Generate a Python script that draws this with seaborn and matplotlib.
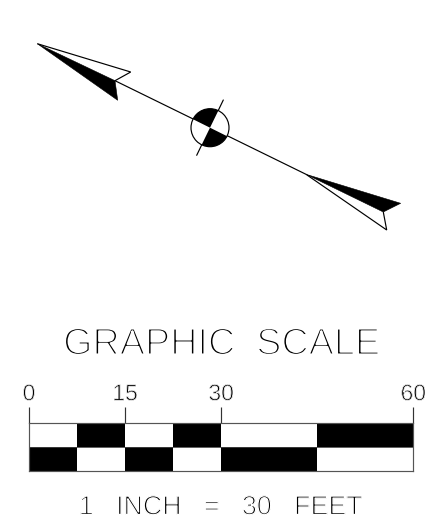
import numpy as np
import pandas as pd
import matplotlib
matplotlib.use("Agg")
import matplotlib.pyplot as plt
import matplotlib.patheffects as pe
from matplotlib.patches import Circle, Polygon, Wedge
import seaborn as sns

# scale bar segments, in feet
seg_start = [0, 7.5, 15, 22.5, 30, 45]
seg_width = [7.5, 7.5, 7.5, 7.5, 15, 15]
top_row = ["white", "black", "white", "black", "white", "black"]
bottom_row = ["black", "white", "black", "white", "black", "white"]
scale_ticks = [0, 15, 30, 60]

# north arrow outline in pixels
shaft_x = [115.0, 306.0]
shaft_y = [80.7, 174.3]
upper_white_x = [37.3, 130.7, 115.0]
upper_white_y = [43.7, 72.0, 80.7]
upper_black_x = [37.3, 115.0, 117.7]
upper_black_y = [43.7, 80.7, 100.3]
lower_black_x = [306.0, 400.7, 383.3]
lower_black_y = [174.3, 203.3, 212.0]
lower_white_x = [306.0, 386.7, 383.3]
lower_white_y = [174.3, 230.0, 212.0]
cross_x = [223.3, 196.7]
cross_y = [100.0, 155.3]

sns.set_theme(style="white")
plt.rcParams["font.family"] = ["Liberation Sans", "DejaVu Sans"]
W, H = 425, 529
fig = plt.figure(figsize=(W / 100, H / 100), dpi=100)
LW = 0.85


def thin(width):
    # white outline over the glyph, the lettering in the drawing is single stroke
    return [pe.Normal(), pe.Stroke(linewidth=width, foreground="white")]


# whole figure in pixels for the arrow
ax = fig.add_axes([0, 0, 1, 1])
ax.set_xlim(0, W)
ax.set_ylim(H, 0)
ax.axis("off")

sns.lineplot(x=shaft_x, y=shaft_y, color="black", lw=LW, sort=False, estimator=None, ax=ax)
sns.lineplot(x=cross_x, y=cross_y, color="black", lw=LW, sort=False, estimator=None, ax=ax)
ax.add_patch(Polygon(np.c_[upper_white_x, upper_white_y], closed=False, fill=False, ec="black", lw=LW))
ax.add_patch(Polygon(np.c_[upper_black_x, upper_black_y], fc="black", ec="black", lw=0.4))
ax.add_patch(Polygon(np.c_[lower_white_x, lower_white_y], closed=False, fill=False, ec="black", lw=LW))
ax.add_patch(Polygon(np.c_[lower_black_x, lower_black_y], fc="black", ec="black", lw=0.4))

# benchmark symbol
ax.add_patch(Circle((210, 127.7), 19, fc="white", ec="black", lw=LW, zorder=3))
ax.add_patch(Wedge((210, 127.7), 19, 206.5, 296, fc="black", ec="none", zorder=4))
ax.add_patch(Wedge((210, 127.7), 19, 26.5, 116, fc="black", ec="none", zorder=4))

# titles
fig.text(221.5 / W, 1 - 354.5 / H, "GRAPHIC  SCALE", ha="center", va="baseline", fontsize=27.2,
         color="black", path_effects=thin(1.5))
fig.text(220 / W, 1 - 514.5 / H, "1   INCH   =   30   FEET", ha="center", va="baseline", fontsize=19.3,
         color="black", path_effects=thin(0.95))

# scale bar axes, x is feet
left, right, top, bottom = 29, 413.3, 422.7, 471.3
sc = fig.add_axes([left / W, 1 - bottom / H, (right - left) / W, (bottom - top) / H])
sc.set_xlim(0, 60)
sc.set_ylim(0, 2)
sc.barh(1.5, seg_width, left=seg_start, height=1, color=top_row, edgecolor="none")
sc.barh(0.5, seg_width, left=seg_start, height=1, color=bottom_row, edgecolor="none")
sc.axhline(1, color="#444444", lw=0.6)
sc.set_yticks([])
sc.set_xticks(scale_ticks)
sc.xaxis.tick_top()
sc.tick_params(axis="x", length=11.5, width=LW, color="#333333", pad=1.0, labelsize=16.5,
               labelcolor="black", top=True, bottom=False)
for s in sc.spines.values():
    s.set_linewidth(LW)
    s.set_color("#555555")
sc.set_facecolor("white")
for lab in sc.get_xticklabels():
    lab.set_path_effects(thin(0.6))

fig.savefig("out.png", dpi=100, facecolor="white")
